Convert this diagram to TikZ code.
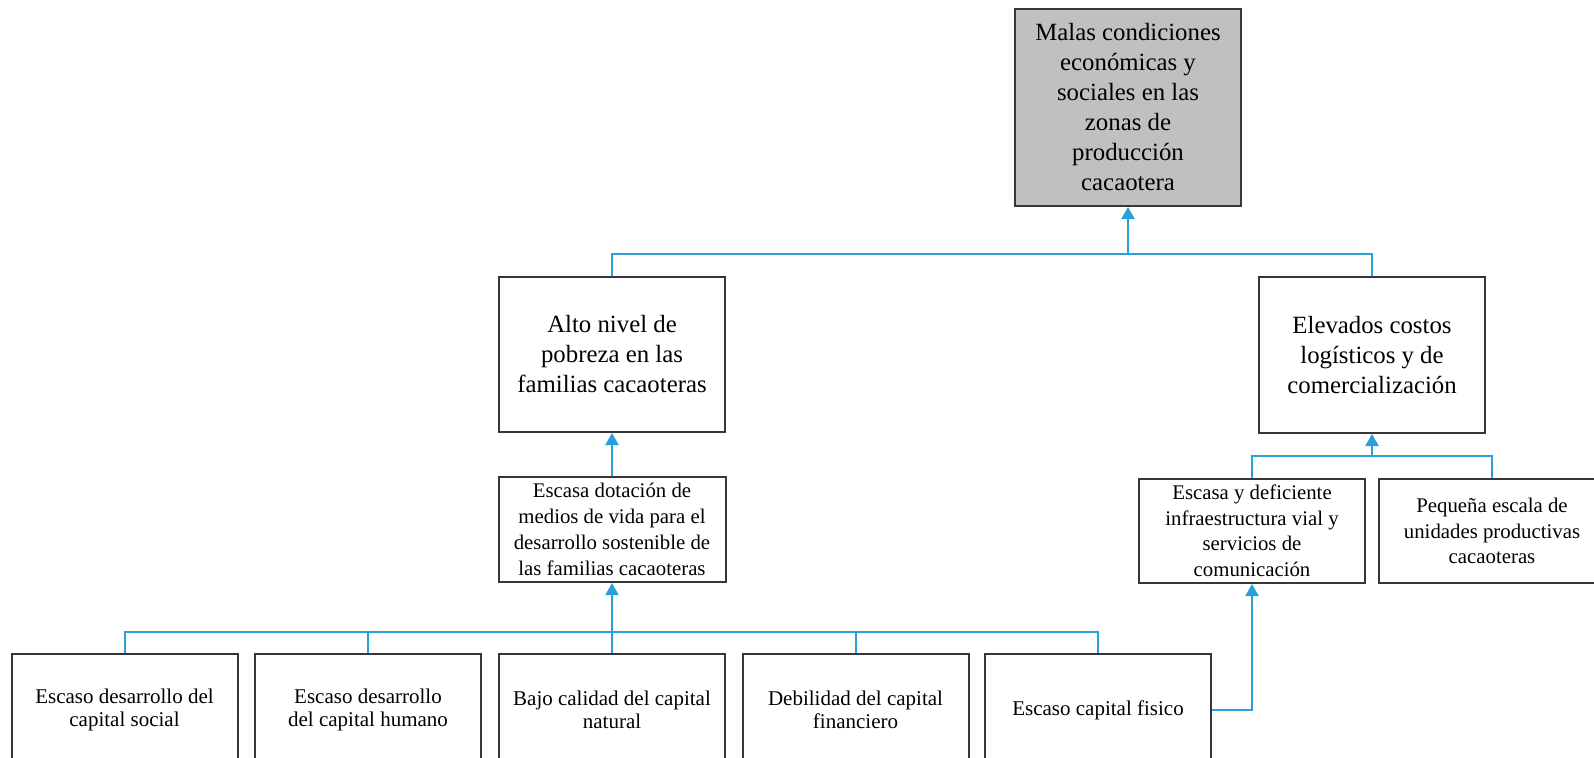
\documentclass[tikz,border=0pt]{standalone}
\usepackage{fontspec}
\setmainfont{Liberation Serif}
\usetikzlibrary{arrows.meta}
\definecolor{linkblue}{RGB}{41,160,218}
\definecolor{boxline}{RGB}{55,55,55}
\definecolor{topfill}{RGB}{192,192,192}
\begin{document}
\begin{tikzpicture}[x=0.5pt,y=-0.5pt,
  box/.style={draw=boxline,line width=1pt,inner sep=0pt,align=center,
    minimum width=113pt},
  bigbox/.style={box,font=\fontsize{12.4}{15}\selectfont},
  midbox/.style={box,font=\fontsize{10.4}{13}\selectfont},
  lowbox/.style={box,font=\fontsize{10.5}{11.6}\selectfont,minimum height=56pt},
  link/.style={draw=linkblue,line width=1pt},
  uparrow/.style={link,-{Triangle[length=6pt,width=6.5pt]}}]
\useasboundingbox (0,0) rectangle (1594,757);
\clip (0,0) rectangle (1594,757);
\fill[white] (0,0) rectangle (1594,757);

% top effect
\node[bigbox,fill=topfill,minimum height=98.5pt] (top) at (1128,107.5)
  {Malas condiciones\\económicas y\\sociales en las\\zonas de\\producción\\cacaotera};

% second level
\node[bigbox,minimum height=77.5pt] (alto) at (612,354.5)
  {Alto nivel de\\pobreza en las\\familias cacaoteras};
\node[bigbox,minimum height=78pt] (elev) at (1372,355)
  {Elevados costos\\logísticos y de\\comercialización};

% third level
\node[midbox,minimum width=113.5pt,minimum height=52.5pt] (dot) at (612,529.5)
  {Escasa dotación de\\medios de vida para el\\desarrollo sostenible de\\las familias cacaoteras};
\node[midbox,minimum height=52pt,font=\fontsize{10.4}{12.75}\selectfont] (def) at (1252,531)
  {Escasa y deficiente\\infraestructura vial y\\servicios de\\comunicación};
\node[midbox,minimum height=52pt,font=\fontsize{10.4}{12.75}\selectfont] (peq) at (1492,531)
  {Pequeña escala de\\unidades productivas\\cacaoteras};

% root causes
\node[lowbox] (b1) at (124.5,710) {Escaso desarrollo del\\capital social};
\node[lowbox] (b2) at (368,710) {Escaso desarrollo\\del capital humano};
\node[lowbox] (b3) at (612,710) {Bajo calidad del capital\\natural};
\node[lowbox] (b4) at (855.5,710) {Debilidad del capital\\financiero};
\node[lowbox] (b5) at (1098,710) {Escaso capital fisico};

% junctions of the connector buses
\coordinate (jt) at (1128,254);
\coordinate (jr) at (1372,456);
\coordinate (jb) at (612,632);

% connectors
\draw[link] (alto.north) |- (jt);
\draw[link] (elev.north) |- (jt);
\draw[uparrow] (jt) -- (top.south);

\draw[uparrow] (dot.north) -- (alto.south);

\draw[link] (def.north) |- (jr);
\draw[link] (peq.north) |- (jr);
\draw[uparrow] (jr) -- (elev.south);

\draw[link] (b1.north) |- (jb);
\draw[link] (b2.north) |- (jb);
\draw[link] (b4.north) |- (jb);
\draw[link] (b5.north) |- (jb);
\draw[link] (b3.north) -- (jb);
\draw[uparrow] (jb) -- (dot.south);

\draw[uparrow] (b5.east) -| (def.south);
\end{tikzpicture}
\end{document}
